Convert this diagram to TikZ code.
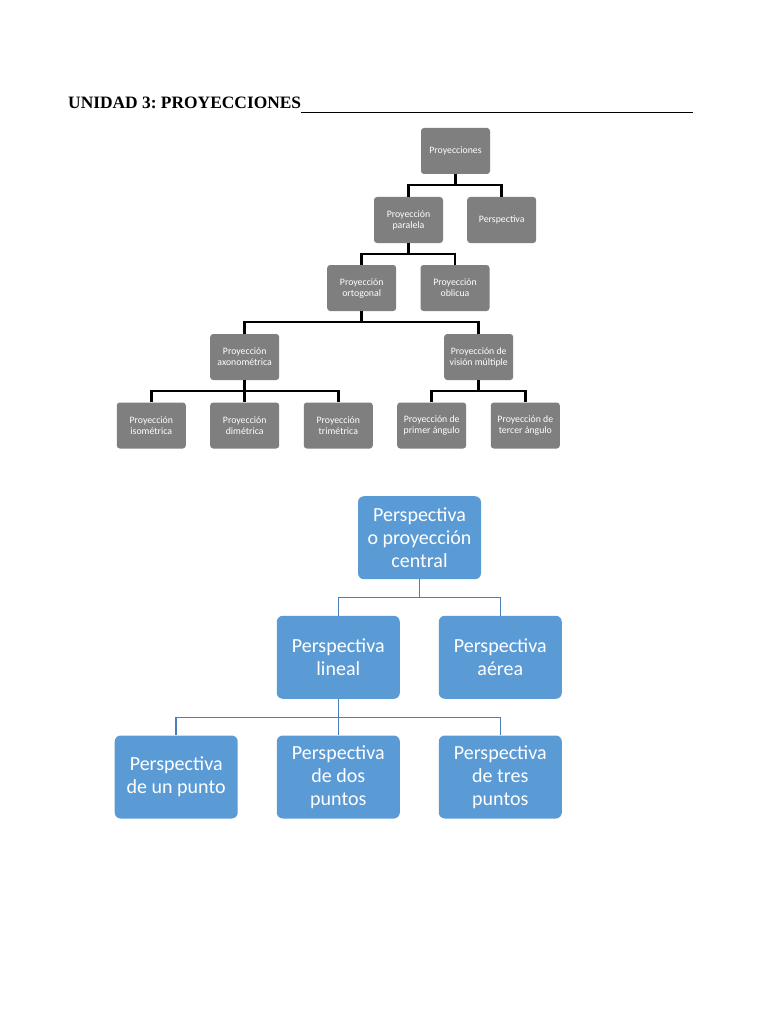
\documentclass[tikz,border=0pt]{standalone}
\usepackage{fontspec}
\setmainfont{Carlito}
\newfontfamily\titlefont{Liberation Serif}
\definecolor{boxgray}{HTML}{7F7F7F}
\definecolor{boxblue}{HTML}{5B9BD5}
\definecolor{lineblue}{HTML}{4A7EBB}
\frenchspacing
\begin{document}
\begin{tikzpicture}[x=1pt,y=-1pt,
  gbox/.style={fill=boxgray,draw=none,rounded corners=3pt,minimum width=69pt,minimum height=46pt,
    text=white,align=center,inner sep=1pt,font=\fontsize{9.8}{11}\selectfont},
  bbox/.style={fill=boxblue,draw=none,rounded corners=6pt,minimum width=123pt,minimum height=83pt,
    text=white,align=center,inner sep=1pt,font=\fontsize{20}{22.7}\selectfont},
  gline/.style={draw=black,line width=2.5pt},
  bline/.style={draw=lineblue,line width=1.5pt}]
\useasboundingbox[fill=white] (0,0) rectangle (768,1024);
% title
\node[anchor=base west,inner sep=0pt,font=\titlefont\bfseries\fontsize{17.4}{20}\selectfont] (title) at (68,109) {UNIDAD 3: PROYECCIONES};
\coordinate (ulend) at (693.3,112.7);
\draw[line width=1.3pt] (title.base east |- ulend) -- (ulend);
% gray tree
\node[gbox] (proy) at (455.5,151) {Proyecciones};
\node[gbox] (par) at (408.5,220) {Proyección\\paralela};
\node[gbox] (persp) at (501.7,220) {Perspectiva};
\node[gbox] (orto) at (361.7,288) {Proyección\\ortogonal};
\node[gbox] (obli) at (455,288) {Proyección\\oblicua};
\node[gbox] (axo) at (244.7,357) {Proyección\\axonométrica};
\node[gbox] (vis) at (478.7,357) {Proyección de\\visión múltiple};
\node[gbox] (iso) at (151.3,425.5) {Proyección\\isométrica};
\node[gbox] (dim) at (244.7,425.5) {Proyección\\dimétrica};
\node[gbox] (tri) at (338.3,425.5) {Proyección\\trimétrica};
\node[gbox] (pri) at (431.7,425.5) {Proyección de\\primer ángulo};
\node[gbox] (ter) at (525.3,425.5) {Proyección de\\tercer ángulo};
\foreach \p/\c in {proy/par,proy/persp,par/orto,par/obli,orto/axo,orto/vis,axo/iso,axo/dim,axo/tri,vis/pri,vis/ter}
  \draw[gline] (\p.south) -- ++(0,11) -| (\c.north);
% blue tree
\node[bbox] (cen) at (419.5,537.7) {Perspectiva\\o proyección\\central};
\node[bbox] (lin) at (338.3,657.3) {Perspectiva\\lineal};
\node[bbox] (aer) at (500.3,657.3) {Perspectiva\\aérea};
\node[bbox] (uno) at (176.2,777) {Perspectiva\\de un punto};
\node[bbox] (dos) at (338.3,777) {Perspectiva\\de dos\\puntos};
\node[bbox] (tres) at (500.3,777) {Perspectiva\\de tres\\puntos};
\foreach \p/\c in {cen/lin,cen/aer,lin/uno,lin/dos,lin/tres}
  \draw[bline] (\p.south) -- ++(0,18.3) -| (\c.north);
\end{tikzpicture}
\end{document}
